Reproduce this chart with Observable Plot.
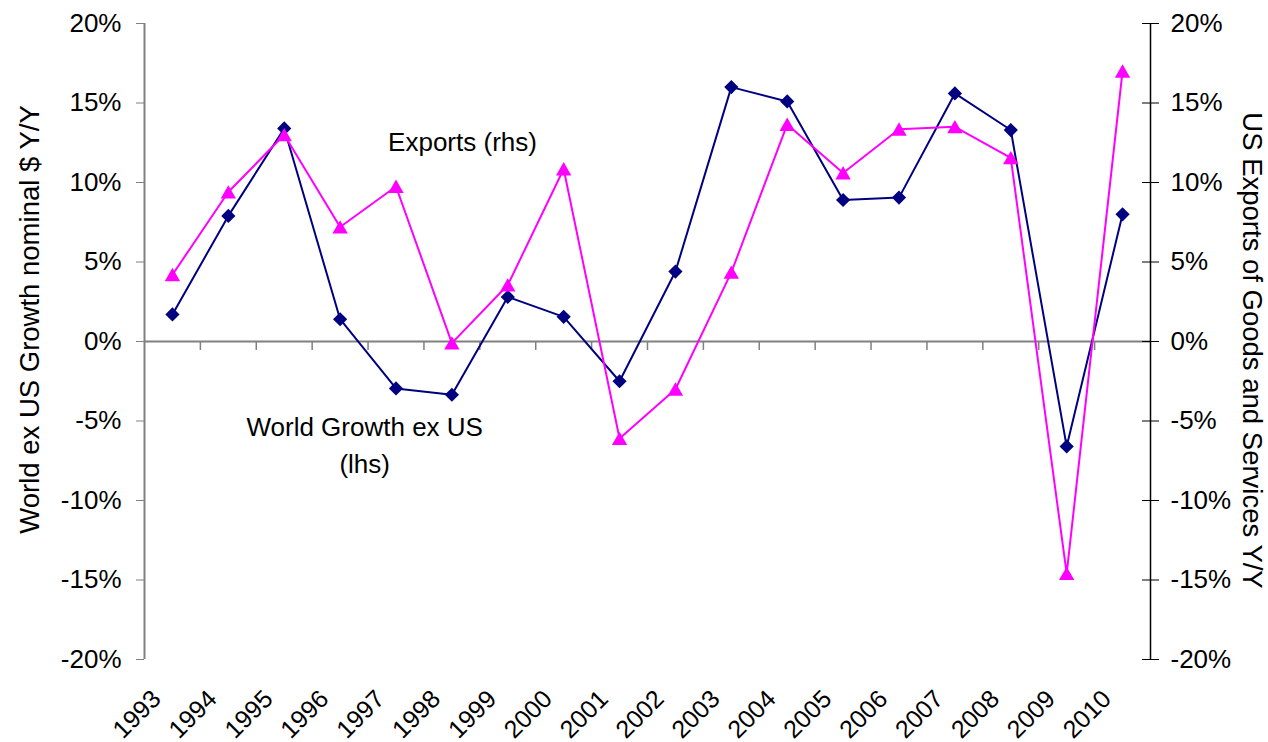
<!DOCTYPE html>
<html>
<head>
<meta charset="utf-8">
<script src="https://cdn.jsdelivr.net/npm/d3@7"></script>
<script src="https://cdn.jsdelivr.net/npm/@observablehq/plot@0.6"></script>
<style>
  html, body { margin: 0; padding: 0; background: #fff; }
  #chart svg { display: block; }
</style>
</head>
<body>
<div id="chart"></div>
<script>
// ---- Data ----
const years = [1993, 1994, 1995, 1996, 1997, 1998, 1999, 2000, 2001, 2002, 2003, 2004, 2005, 2006, 2007, 2008, 2009, 2010];
// World Growth ex US, nominal $ Y/Y (lhs), in %
const worldGrowth = [1.7, 7.9, 13.4, 1.4, -2.95, -3.35, 2.8, 1.55, -2.5, 4.4, 16.0, 15.1, 8.9, 9.05, 15.6, 13.3, -6.6, 8.0];
// US Exports of Goods and Services Y/Y (rhs), in %
const usExports = [4.2, 9.4, 13.0, 7.2, 9.75, -0.1, 3.55, 10.85, -6.1, -3.0, 4.35, 13.65, 10.6, 13.35, 13.5, 11.55, -14.6, 17.0];
// Axis ticks (%)
const yTicks = [-20, -15, -10, -5, 0, 5, 10, 15, 20];
const leftTitle = "World ex US Growth nominal $ Y/Y";
const rightTitle = "US Exports of Goods and Services Y/Y";
const annotations = [
  {label: "Exports (rhs)", x: 1998.19, y: 12.5},
  {label: "World Growth ex US", x: 1996.44, y: -5.43},
  {label: "(lhs)", x: 1996.44, y: -7.72}
];

// ---- Derived tables ----
const rows = years.map((year, i) => ({year, world: worldGrowth[i] / 100, exports: usExports[i] / 100}));
const xDomain = [years[0] - 0.5, years[years.length - 1] + 0.5];
const boundaries = years.slice(0, -1).map(y => y + 0.5);
const yTickVals = yTicks.map(t => t / 100);
const pct = d => `${Math.round(d * 100)}%`;

const NAVY = "#000080";
const MAGENTA = "#FF00FF";
const GRAY = "#808080";

const chart = Plot.plot({
  width: 1268,
  height: 742,
  marginLeft: 144,
  marginRight: 118,
  marginTop: 23,
  marginBottom: 83,
  style: {
    fontFamily: "'Liberation Sans', Arial, sans-serif",
    fontSize: "24px",
    background: "white",
    color: "black"
  },
  x: {domain: xDomain, axis: null},
  y: {domain: [-0.2, 0.2]},
  marks: [
    // zero line with category ticks
    Plot.ruleY([0], {stroke: GRAY, strokeWidth: 2}),
    Plot.ruleX(boundaries, {x: d => d, y1: 0, y2: 0, insetBottom: -9, stroke: GRAY, strokeWidth: 1.5}),
    // left axis
    Plot.ruleX([xDomain[0]], {stroke: GRAY, strokeWidth: 2}),
    Plot.axisY({anchor: "left", ticks: yTickVals, tickFormat: pct, tickSize: 8, tickPadding: 15, stroke: GRAY, fontSize: 26}),
    // right axis
    Plot.ruleX([xDomain[1]], {stroke: "black", strokeWidth: 1.5}),
    Plot.axisY({anchor: "right", ticks: yTickVals, tickFormat: pct, tickSize: 17, dx: -9, tickPadding: 12, stroke: "black", fontSize: 26}),
    // series
    Plot.line(rows, {x: "year", y: "world", stroke: NAVY, strokeWidth: 2}),
    Plot.dot(rows, {x: "year", y: "world", symbol: "diamond2", r: 6.4, fill: NAVY, stroke: "none"}),
    Plot.line(rows, {x: "year", y: "exports", stroke: MAGENTA, strokeWidth: 2}),
    Plot.dot(rows, {x: "year", y: "exports", symbol: "triangle", r: 5.7, fill: MAGENTA, stroke: "none", dy: 2}),
    // year labels
    Plot.text(rows, {x: "year", text: d => String(d.year), frameAnchor: "bottom", rotate: -45, textAnchor: "end", dx: -10, dy: 41, fontSize: 25, fill: "black"}),
    // annotations
    Plot.text(annotations, {x: "x", y: d => d.y / 100, text: "label", fontSize: 26, fill: "black"}),
    // axis titles
    Plot.text([leftTitle], {text: d => d, frameAnchor: "left", textAnchor: "middle", rotate: -90, dx: -114, dy: -22, fontSize: 27.5, fill: "black"}),
    Plot.text([rightTitle], {text: d => d, frameAnchor: "right", textAnchor: "middle", rotate: 90, dx: 101, dy: 9, fontSize: 27.5, fill: "black"})
  ]
});
document.getElementById("chart").appendChild(chart);
</script>
</body>
</html>
